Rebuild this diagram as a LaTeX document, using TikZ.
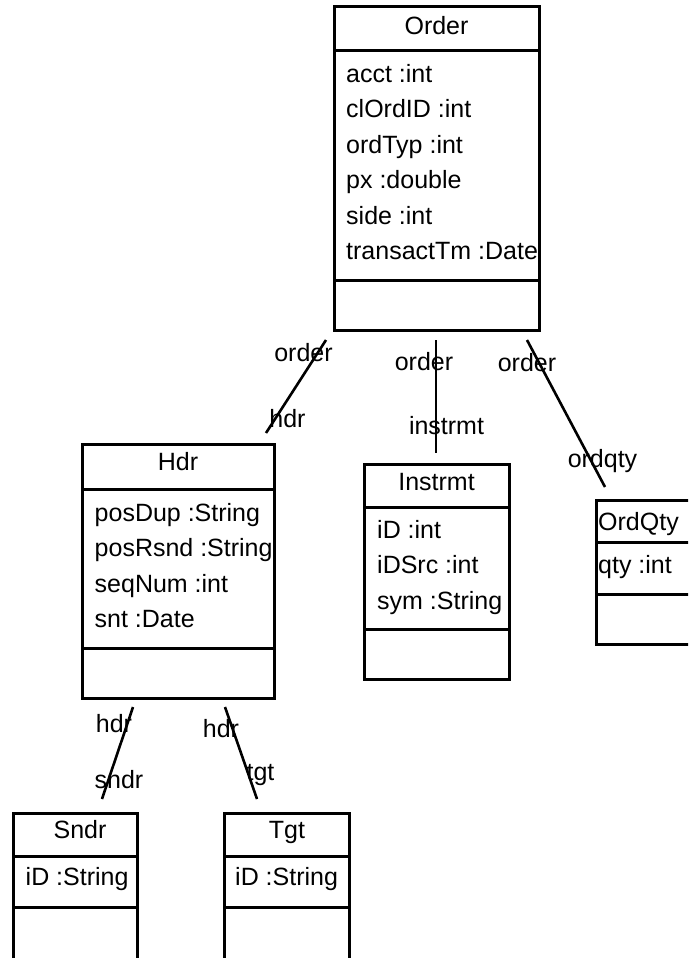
\documentclass[tikz,border=0pt]{standalone}
\usepackage{fontspec}
\setmainfont{Liberation Sans}
\usetikzlibrary{calc}

\tikzset{
  classbox/.style={draw,line width=3pt,rectangle,anchor=north west,inner sep=0pt,outer sep=0pt},
  sepline/.style={line width=3pt},
  member/.style={anchor=base west,inner sep=0pt,font=\fontsize{25pt}{30pt}\selectfont},
  classname/.style={anchor=base,inner sep=0pt,font=\fontsize{25pt}{30pt}\selectfont},
  role/.style={anchor=base,inner sep=0pt,font=\fontsize{25pt}{30pt}\selectfont},
  assoc/.style={line width=2.6pt},
}

\begin{document}
\begin{tikzpicture}[x=1pt,y=-1pt]
  \path[use as bounding box] (0,0) rectangle (688,958);
  \clip (0,0) rectangle (688,958);

  % Order
  \node[classbox,minimum width=205pt,minimum height=323pt] (order) at (334,7) {};
  \draw[sepline] (334,51) -- (539,51) (334,280) -- (539,280);
  \node[classname] (order-name) at (436.5,35) {Order};
  \foreach \txt [count=\i] in {acct :int,clOrdID :int,ordTyp :int,px :double,side :int,transactTm :Date}
    \node[member] (order-\i) at (346,{82+35.5*(\i-1)}) {\txt};

  % Hdr
  \node[classbox,minimum width=192pt,minimum height=254pt] (hdr) at (82,444) {};
  \draw[sepline] (82,489) -- (274,489) (82,648) -- (274,648);
  \node[classname] (hdr-name) at (178,470) {Hdr};
  \foreach \txt [count=\i] in {posDup :String,posRsnd :String,seqNum :int,snt :Date}
    \node[member] (hdr-\i) at (94.5,{521+35.5*(\i-1)}) {\txt};

  % Instrmt
  \node[classbox,minimum width=145pt,minimum height=215pt] (instrmt) at (364,464) {};
  \draw[sepline] (364,507) -- (509,507) (364,629) -- (509,629);
  \node[classname] (instrmt-name) at (436.5,490) {Instrmt};
  \foreach \txt [count=\i] in {iD :int,iDSrc :int,sym :String}
    \node[member] (instrmt-\i) at (377,{538+35.5*(\i-1)}) {\txt};

  % OrdQty
  \node[classbox,minimum width=130pt,minimum height=144pt] (ordqty) at (596,500) {};
  \draw[sepline] (596,542) -- (726,542) (596,594) -- (726,594);
  \node[member] (ordqty-name) at (598,530) {OrdQty};
  \node[member] (ordqty-1) at (598,573) {qty :int};

  % Sndr
  \node[classbox,minimum width=124pt,minimum height=150pt] (sndr) at (13,813) {};
  \draw[sepline] (13,856) -- (137,856) (13,907) -- (137,907);
  \node[classname] (sndr-name) at (80,838) {Sndr};
  \node[member] (sndr-1) at (25.5,885) {iD :String};

  % Tgt
  \node[classbox,minimum width=125pt,minimum height=150pt] (tgt) at (224,813) {};
  \draw[sepline] (224,856) -- (349,856) (224,907) -- (349,907);
  \node[classname] (tgt-name) at (287,838) {Tgt};
  \node[member] (tgt-1) at (235,885) {iD :String};

  % associations
  \coordinate (order-hdr-a) at (326,340);
  \coordinate (order-hdr-b) at (266,433);
  \draw[assoc] (order-hdr-a) -- (order-hdr-b);
  \node[role] (order-hdr-ra) at (303.5,361) {order};
  \node[role] (order-hdr-rb) at (287.5,427) {hdr};

  \coordinate (order-instrmt-a) at (436,340);
  \coordinate (order-instrmt-b) at (436,453);
  \draw[assoc] (order-instrmt-a) -- (order-instrmt-b);
  \node[role] (order-instrmt-ra) at (424,370) {order};
  \node[role] (order-instrmt-rb) at (446.5,434) {instrmt};

  \coordinate (order-ordqty-a) at (527,340);
  \coordinate (order-ordqty-b) at (605,487);
  \draw[assoc] (order-ordqty-a) -- (order-ordqty-b);
  \node[role] (order-ordqty-ra) at (527,371) {order};
  \node[role] (order-ordqty-rb) at (602.5,467) {ordqty};

  \coordinate (hdr-sndr-a) at (133,707);
  \coordinate (hdr-sndr-b) at (102,799);
  \draw[assoc] (hdr-sndr-a) -- (hdr-sndr-b);
  \node[role] (hdr-sndr-ra) at (114,732) {hdr};
  \node[role] (hdr-sndr-rb) at (119,788) {sndr};

  \coordinate (hdr-tgt-a) at (225,707);
  \coordinate (hdr-tgt-b) at (257,799);
  \draw[assoc] (hdr-tgt-a) -- (hdr-tgt-b);
  \node[role] (hdr-tgt-ra) at (221,737) {hdr};
  \node[role] (hdr-tgt-rb) at (260.5,780) {tgt};
\end{tikzpicture}
\end{document}
